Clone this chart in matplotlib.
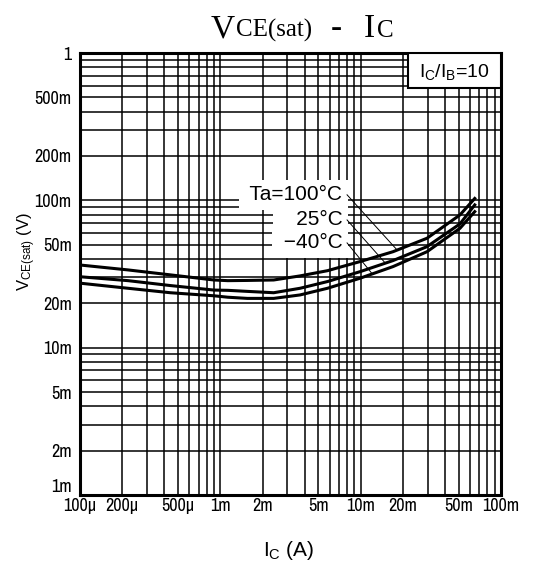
import matplotlib
matplotlib.use('Agg')
import matplotlib.pyplot as plt
from matplotlib import font_manager
from matplotlib.patches import Rectangle
import numpy as np

# collector current (A)
ic = [1.0e-4, 2.2e-4, 4.4e-4, 9.0e-4, 1.13e-3, 1.56e-3, 2.4e-3,
      3.7e-3, 5.8e-3, 9.9e-3, 17e-3, 29.7e-3, 51e-3, 65e-3]

# VCE(sat) (V) for each ambient temperature
vce_100 = [0.0364, 0.0337, 0.0312, 0.0288, 0.0285, 0.0286, 0.0288,
           0.0307, 0.0333, 0.0384, 0.0448, 0.0553, 0.0796, 0.103]
vce_25 = [0.0303, 0.0285, 0.0264, 0.0246, 0.0245, 0.0241, 0.0236,
          0.0253, 0.0281, 0.0328, 0.0390, 0.0485, 0.0692, 0.0931]
vce_m40 = [0.0274, 0.0253, 0.0236, 0.0225, 0.0220, 0.0216, 0.0216,
           0.0228, 0.0253, 0.0296, 0.0355, 0.0448, 0.0646, 0.0838]

curve_labels = ['Ta=100°C', '25°C', '−40°C']

x_tick_vals = [1e-4, 2e-4, 5e-4, 1e-3, 2e-3, 5e-3, 1e-2, 2e-2, 5e-2, 1e-1]
x_tick_text = ['100µ', '200µ', '500µ', '1m', '2m', '5m', '10m', '20m', '50m', '100m']
y_tick_vals = [1e-3, 2e-3, 5e-3, 1e-2, 2e-2, 5e-2, 1e-1, 2e-1, 5e-1, 1.0]
y_tick_text = ['1m', '2m', '5m', '10m', '20m', '50m', '100m', '200m', '500m', '1']

# narrow sans for the tick labels, if installed
names = sorted({f.name for f in font_manager.fontManager.ttflist})
narrow = [n for n in names if 'Narrow' in n or 'Condensed' in n]
if 'Liberation Sans Narrow' in narrow:
    fam = 'Liberation Sans Narrow'
elif narrow:
    fam = narrow[0]
else:
    fam = 'Liberation Sans'
plt.rcParams['font.family'] = [fam, 'DejaVu Sans']
plt.rcParams['mathtext.fontset'] = 'custom'
plt.rcParams['mathtext.rm'] = 'Liberation Sans'
reg = ['Liberation Sans', 'DejaVu Sans']

W, H = 539, 565
fig = plt.figure(figsize=(W / 100, H / 100), dpi=100)
ax = fig.add_axes([80 / W, 1 - 495 / H, 421 / W, 442 / H])
ax.set_xscale('log')
ax.set_yscale('log')
ax.set_xlim(1e-4, 1e-1)
ax.set_ylim(1e-3, 1)

# grid at every 1..9 multiple, labels only at 1-2-5
def grid_ticks(lo, hi):
    out = []
    for e in range(lo, hi):
        out += [m * 10.0 ** e for m in range(1, 10)]
    out.append(10.0 ** hi)
    return out

def label_for(v, vals, texts):
    return next((t for tv, t in zip(vals, texts) if np.isclose(tv, v)), '')

xt = grid_ticks(-4, -1)
yt = grid_ticks(-3, 0)
ax.minorticks_off()
ax.set_xticks(xt)
ax.set_yticks(yt)
ax.set_xticklabels([label_for(v, x_tick_vals, x_tick_text) for v in xt])
ax.set_yticklabels([label_for(v, y_tick_vals, y_tick_text) for v in yt])
ax.tick_params(axis='both', length=0, labelsize=13)
ax.tick_params(axis='x', pad=2)
ax.tick_params(axis='y', pad=6)
for t in ax.get_yticklabels():
    if t.get_text() == '1m':
        t.set_va('bottom')
ax.grid(True, which='major', color='black', lw=1.1)
ax.set_axisbelow(True)
for s in ax.spines.values():
    s.set_linewidth(2.2)

for v in (vce_100, vce_25, vce_m40):
    ax.plot(ic, v, color='black', lw=2.2, zorder=4)

# curve labels with leader lines (leading spaces widen the white patch)
label_x = 7.4e-3
label_y = [0.109, 0.0736, 0.0514]
leader_x = [0.0182, 0.0150, 0.0121]
lead = [' ', '   ', ' ']
for lab, sp, ly, lx, v in zip(curve_labels, lead, label_y, leader_x,
                              (vce_100, vce_25, vce_m40)):
    ax.text(label_x, ly, sp + lab, ha='right', va='center', fontsize=15, family=reg,
            zorder=5, bbox=dict(facecolor='white', edgecolor='none', pad=4))
    end_y = 10 ** np.interp(np.log10(lx), np.log10(ic), np.log10(v))
    ax.plot([8.0e-3, lx], [ly, end_y], color='black', lw=0.7, zorder=5)

# IC/IB box
ax.add_patch(Rectangle((0.779, 0.921), 0.221, 0.079, transform=ax.transAxes,
                       facecolor='white', edgecolor='black', lw=1.5, zorder=5))
ax.text(0.89, 0.958, r'$\mathregular{I_C/I_B}$=10', transform=ax.transAxes,
        ha='center', va='center', fontsize=14, family=reg, zorder=6)

# title pieces
ty = 1 - 37 / H
for s, px, size in [('V', 211, 24), ('CE(sat)', 236, 18), ('-', 331, 24),
                    ('I', 364, 24), ('C', 377, 18)]:
    fig.text(px / W, ty, s, fontsize=size, family='Liberation Serif',
             ha='left', va='baseline')

fig.text(27 / W, 1 - 252 / H, r'$\mathregular{V_{CE(sat)}}$ (V)', rotation=90,
         ha='center', va='center', fontsize=12, family=reg)
fig.text(289 / W, 1 - 550 / H, r'$\mathregular{I_C}$ (A)', ha='center', va='center',
         fontsize=15, family=reg)

fig.savefig('out.png', dpi=100)
